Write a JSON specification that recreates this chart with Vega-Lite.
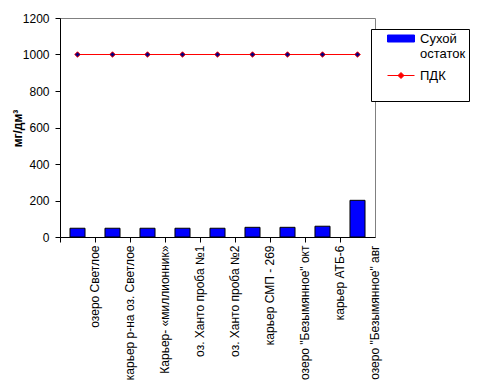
{
  "$schema": "https://vega.github.io/schema/vega-lite/v6.json",
  "width": 315,
  "height": 219,
  "autosize": {"type": "none"},
  "padding": {"left": 60, "top": 18, "right": 106, "bottom": 155},
  "background": "#ffffff",
  "config": {
    "view": {"stroke": "#808080", "strokeWidth": 1},
    "font": "Liberation Sans",
    "axis": {
      "labelFont": "Liberation Sans",
      "labelFontSize": 12,
      "labelColor": "#000000",
      "domainColor": "#000000",
      "tickColor": "#000000",
      "grid": false
    },
    "legend": {
      "labelFont": "Liberation Sans",
      "labelFontSize": 13,
      "labelColor": "#000000"
    }
  },
  "data": {
    "values": [
      {"site": "озеро Светлое", "dry": 48, "pdk": 1000},
      {"site": "карьер  р-на оз. Светлое", "dry": 48, "pdk": 1000},
      {"site": "Карьер- «миллионник»", "dry": 48, "pdk": 1000},
      {"site": "оз. Ханто проба №1", "dry": 48, "pdk": 1000},
      {"site": "оз. Ханто проба №2", "dry": 48, "pdk": 1000},
      {"site": "карьер СМП - 269", "dry": 53, "pdk": 1000},
      {"site": "озеро \"Безымянное\" окт", "dry": 53, "pdk": 1000},
      {"site": "карьер АТБ-6", "dry": 59, "pdk": 1000},
      {"site": "озеро \"Безымянное\" авг", "dry": 201, "pdk": 1000}
    ]
  },
  "encoding": {
    "x": {
      "field": "site",
      "type": "nominal",
      "sort": null,
      "scale": {"paddingInner": 0, "paddingOuter": 0},
      "axis": {
        "title": null,
        "labelAngle": -90,
        "labelAlign": "right",
        "labelBaseline": "middle",
        "bandPosition": 0,
        "labelOffset": 17.5,
        "tickSize": 5,
        "labelPadding": 3,
        "labelLimit": 200
      }
    }
  },
  "layer": [
    {
      "mark": {"type": "bar", "width": {"band": 0.43}, "stroke": "#000000", "strokeWidth": 1},
      "encoding": {
        "y": {
          "field": "dry",
          "type": "quantitative",
          "scale": {"domain": [0, 1200], "nice": false},
          "axis": {
            "values": [0, 200, 400, 600, 800, 1000, 1200],
            "format": "d",
            "labelOverlap": false,
            "labelFlush": false,
            "tickSize": 5,
            "labelPadding": 6,
            "title": "мг/дм³",
            "titleFont": "Liberation Sans",
            "titleFontSize": 12,
            "titleFontWeight": "bold",
            "titleColor": "#000000",
            "titleX": -43,
            "titleY": 110,
            "titleAngle": -90,
            "titleAlign": "center",
            "titleBaseline": "middle"
          }
        },
        "color": {
          "datum": "Сухой остаток",
          "scale": {"domain": ["Сухой остаток", "ПДК"], "range": ["#0000ff", "#ff0000"]},
          "legend": {
            "title": null,
            "orient": "none",
            "legendX": 311,
            "legendY": 11,
            "strokeColor": "#000000",
            "fillColor": "#ffffff",
            "padding": 3,
            "symbolSize": 100,
            "labelOffset": 33,
            "rowPadding": 8,
            "labelExpr": "datum.label === 'Сухой остаток' ? ['Сухой', 'остаток'] : ['ПДК', ' ']",
            "encode": {
              "symbols": {
                "update": {
                  "shape": {"signal": "datum.value === 'ПДК' ? 'M1.4,0H6.8M4.1,-0.6L4.7,0L4.1,0.6L3.5,0Z' : 'M1.4,-0.7H6.8V0.7H1.4Z'"},
                  "fill": {"signal": "datum.value === 'ПДК' ? '#000080' : '#0000ff'"},
                  "stroke": {"signal": "datum.value === 'ПДК' ? '#ff0000' : '#000000'"},
                  "strokeWidth": {"value": 1},
                  "opacity": {"value": 1},
                  "fillOpacity": {"value": 1}
                }
              }
            }
          }
        }
      }
    },
    {
      "mark": {
        "type": "line",
        "strokeWidth": 1,
        "point": {"filled": true, "shape": "diamond", "size": 30, "fill": "#000080", "stroke": "#ff0000", "strokeWidth": 1}
      },
      "encoding": {
        "y": {
          "field": "pdk",
          "type": "quantitative",
          "scale": {"domain": [0, 1200], "nice": false},
          "axis": {
            "values": [0, 200, 400, 600, 800, 1000, 1200],
            "format": "d",
            "labelOverlap": false,
            "labelFlush": false,
            "tickSize": 5,
            "labelPadding": 6,
            "title": "мг/дм³",
            "titleFont": "Liberation Sans",
            "titleFontSize": 12,
            "titleFontWeight": "bold",
            "titleColor": "#000000",
            "titleX": -43,
            "titleY": 110,
            "titleAngle": -90,
            "titleAlign": "center",
            "titleBaseline": "middle"
          }
        },
        "color": {
          "datum": "ПДК",
          "legend": {
            "title": null,
            "orient": "none",
            "legendX": 311,
            "legendY": 11,
            "strokeColor": "#000000",
            "fillColor": "#ffffff",
            "padding": 3,
            "symbolSize": 100,
            "labelOffset": 33,
            "rowPadding": 8,
            "labelExpr": "datum.label === 'Сухой остаток' ? ['Сухой', 'остаток'] : ['ПДК', ' ']",
            "encode": {
              "symbols": {
                "update": {
                  "shape": {"signal": "datum.value === 'ПДК' ? 'M1.4,0H6.8M4.1,-0.6L4.7,0L4.1,0.6L3.5,0Z' : 'M1.4,-0.7H6.8V0.7H1.4Z'"},
                  "fill": {"signal": "datum.value === 'ПДК' ? '#000080' : '#0000ff'"},
                  "stroke": {"signal": "datum.value === 'ПДК' ? '#ff0000' : '#000000'"},
                  "strokeWidth": {"value": 1},
                  "opacity": {"value": 1},
                  "fillOpacity": {"value": 1}
                }
              }
            }
          }
        }
      }
    }
  ]
}
